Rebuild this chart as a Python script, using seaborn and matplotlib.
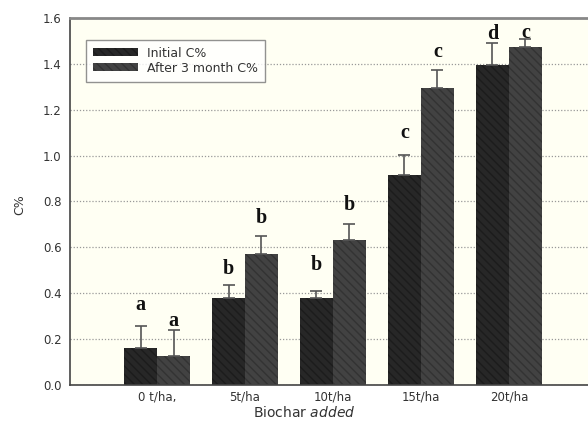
import matplotlib
matplotlib.use("Agg")
import matplotlib.pyplot as plt
import seaborn as sns
import pandas as pd

# data
doses = ["0 t/ha,", "5t/ha", "10t/ha", "15t/ha", "20t/ha"]
series = ["Initial C%", "After 3 month C%"]
initial = [0.162, 0.38, 0.38, 0.915, 1.395]
after = [0.126, 0.571, 0.632, 1.295, 1.473]
initial_err = [0.095, 0.056, 0.03, 0.087, 0.095]
after_err = [0.114, 0.079, 0.068, 0.078, 0.035]
initial_letters = ["a", "b", "b", "c", "d"]
after_letters = ["a", "b", "b", "c", "c"]
initial_letter_y = [0.35, 0.506, 0.523, 1.10, 1.528]
after_letter_y = [0.279, 0.728, 0.785, 1.452, 1.536]

df = pd.DataFrame({
    "dose": doses * 2,
    "series": [series[0]] * len(doses) + [series[1]] * len(doses),
    "C": initial + after,
})

sns.set_style("white")
plt.rcParams["font.family"] = ["DejaVu Sans"]

fig = plt.figure(figsize=(5.88, 4.25), dpi=100)
ax = fig.add_axes([0.119, 0.094, 0.881, 0.864])
ax.set_facecolor("#fffff3")

sns.barplot(data=df, x="dose", y="C", hue="series", palette=["#272727", "#424242"],
            width=0.75, errorbar=None, saturation=1, ax=ax, legend=False)

n = len(doses)
bars = ax.patches[:2 * n]
for i, p in enumerate(bars):
    p.set_hatch("\\\\\\\\")
    p.set_edgecolor("#1c1c1c" if i < n else "#333333")
    p.set_linewidth(0)

xs_init = [p.get_x() + p.get_width() / 2 for p in bars[:n]]
xs_after = [p.get_x() + p.get_width() / 2 for p in bars[n:]]

ax.errorbar(xs_init, initial, yerr=[[0] * n, initial_err], fmt="none",
            ecolor="#555555", elinewidth=1.2, capsize=4.5, capthick=1.2, zorder=3)
ax.errorbar(xs_after, after, yerr=[[0] * n, after_err], fmt="none",
            ecolor="#555555", elinewidth=1.2, capsize=4.5, capthick=1.2, zorder=3)

for x, y, t in zip(xs_init + xs_after, initial_letter_y + after_letter_y,
                   initial_letters + after_letters):
    ax.text(x, y, t, ha="center", va="center", fontsize=14.5, fontweight="bold",
            family="Liberation Serif", color="#111111")

ax.set_ylim(0, 1.6)
ax.set_xlim(-0.99, 4.9)
ax.set_yticks([0.0, 0.2, 0.4, 0.6, 0.8, 1.0, 1.2, 1.4, 1.6])
ax.set_yticklabels([f"{v:.1f}" for v in ax.get_yticks()], fontsize=8.5, color="#333333")
ax.tick_params(axis="x", labelsize=8.5, labelcolor="#333333", length=0, pad=4)
ax.tick_params(axis="y", length=0, pad=6)
ax.yaxis.grid(True, linestyle=(0, (1, 1.5)), color="#999999", linewidth=0.9)
ax.set_axisbelow(True)

for s in ["left", "bottom"]:
    ax.spines[s].set_color("#444444")
    ax.spines[s].set_linewidth(1.2)
ax.spines["top"].set_color("#888888")
ax.spines["top"].set_linewidth(2)
ax.spines["right"].set_visible(False)

ax.set_ylabel("C%", fontsize=9, color="#333333")
ax.yaxis.set_label_coords(-0.085, 0.49)
ax.set_xlabel(r"Biochar $\it{added}$", fontsize=10, color="#333333")
ax.xaxis.set_label_coords(0.452, -0.055)

handles = [plt.Rectangle((0, 0), 1, 1, facecolor="#272727", hatch="\\\\\\\\", edgecolor="#1c1c1c", linewidth=0),
           plt.Rectangle((0, 0), 1, 1, facecolor="#424242", hatch="\\\\\\\\", edgecolor="#333333", linewidth=0)]
leg = ax.legend(handles, series, loc="upper left", bbox_to_anchor=(0.031, 0.94),
                fontsize=9, frameon=True, fancybox=False, handlelength=3.6,
                handleheight=0.6, borderpad=0.55, labelspacing=0.15, handletextpad=0.7,
                borderaxespad=0)
leg.get_frame().set_edgecolor("#777777")
leg.get_frame().set_linewidth(1)
leg.get_frame().set_facecolor("white")
for t in leg.get_texts():
    t.set_color("#333333")

fig.savefig("out.png", dpi=100)
